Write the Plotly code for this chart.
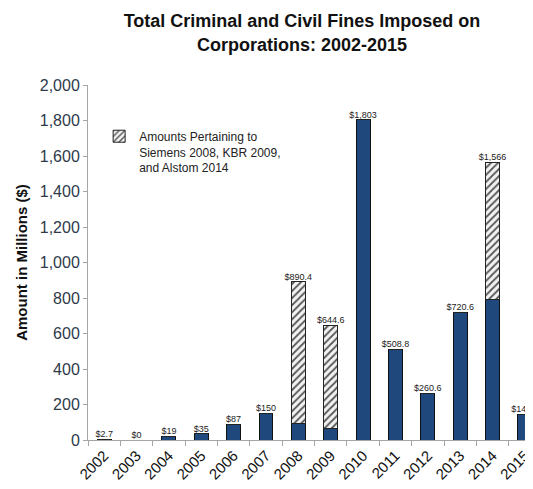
import plotly.graph_objects as go

years = ["2002", "2003", "2004", "2005", "2006", "2007", "2008", "2009",
         "2010", "2011", "2012", "2013", "2014", "2015"]
totals = [2.7, 0, 19, 35, 87, 150, 890.4, 644.6, 1803, 508.8, 260.6, 720.6, 1566, 143.3]
special = [0, 0, 0, 0, 0, 0, 800, 579, 0, 0, 0, 0, 772, 0]
labels = ["$2.7", "$0", "$19", "$35", "$87", "$150", "$890.4", "$644.6", "$1,803",
          "$508.8", "$260.6", "$720.6", "$1,566", "$143.3"]
base = [t - s for t, s in zip(totals, special)]

NARROW = "Liberation Sans Narrow, Arial Narrow, Liberation Sans, Arial, sans-serif"
BLUE = "#1f497d"

fig = go.Figure()
fig.add_trace(go.Bar(
    x=years, y=base, width=0.43, showlegend=False,
    marker=dict(color=BLUE, line=dict(color="#111111", width=1)),
    hoverinfo="skip",
))
fig.add_trace(go.Bar(
    x=years, y=special, width=0.43,
    name="Amounts Pertaining to<br>Siemens 2008, KBR 2009,<br>and Alstom 2014",
    marker=dict(color="white", line=dict(color="#222222", width=1),
                pattern=dict(shape="/", fgcolor="#555555", bgcolor="#f2f2f2",
                             size=5, solidity=0.35)),
    hoverinfo="skip",
))
fig.add_trace(go.Scatter(
    x=years, y=totals, mode="text", text=labels, textposition="top center",
    textfont=dict(family="Liberation Sans, Arial, sans-serif", size=9, color="#222222"),
    showlegend=False, cliponaxis=False, hoverinfo="skip",
))

fig.update_layout(
    width=525, height=481,
    template="none",
    barmode="stack",
    paper_bgcolor="white", plot_bgcolor="white",
    margin=dict(l=80, r=0, t=77, b=49),
    title=dict(text="<b>Total Criminal and Civil Fines Imposed on<br>Corporations: 2002-2015</b>",
               x=0.56, xanchor="center", y=0.96, yanchor="top",
               font=dict(family=NARROW, size=18, color="#111111")),
    showlegend=True,
    legend=dict(x=0.025, y=0.896, xanchor="left", yanchor="top", valign="top",
                bgcolor="rgba(0,0,0,0)", font=dict(family="Liberation Sans, Arial, sans-serif",
                                                   size=12, color="#222222"),
                itemwidth=30),
    xaxis=dict(type="category", range=[-0.5, 13.25], showgrid=False, showline=True,
               linecolor="#a6a6a6", linewidth=1, ticks="outside", tickson="boundaries",
               ticklen=5, tickcolor="#a6a6a6", tickangle=-45, automargin=False,
               tickfont=dict(family=NARROW, size=15, color="#111111")),
    yaxis=dict(range=[0, 2000], dtick=200, tickformat=",d", showgrid=False, zeroline=False,
               showline=True, linecolor="#a6a6a6", linewidth=1, ticks="outside",
               ticklen=4, tickcolor="#a6a6a6", automargin=False,
               tickfont=dict(family=NARROW, size=16, color="#2e3a4a"),
               title=dict(text="<b>Amount in Millions ($)</b>", standoff=8,
                          font=dict(family=NARROW, size=15, color="#111111"))),
)

fig.write_html("out.html")
